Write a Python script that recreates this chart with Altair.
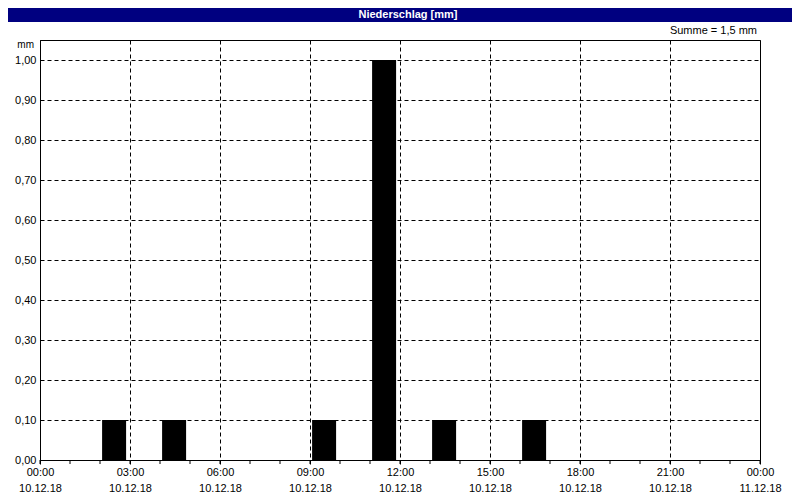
import altair as alt
import pandas as pd

# Data (hourly precipitation, bar start hour on 10.12.18)
start_hours = [2, 4, 9, 11, 13, 16]
values_mm = [0.10, 0.10, 0.10, 1.00, 0.10, 0.10]
x_tick_hours = [0, 3, 6, 9, 12, 15, 18, 21, 24]
minor_tick_hours = list(range(0, 25))
y_tick_values = [0.0, 0.1, 0.2, 0.3, 0.4, 0.5, 0.6, 0.7, 0.8, 0.9, 1.0]
title_text = "Niederschlag [mm]"
sum_text = "Summe = 1,5 mm"
unit_text = "mm"

df = pd.DataFrame({"start": start_hours, "value": values_mm})
minor_df = pd.DataFrame({"h": minor_tick_hours})

FONT = "Liberation Sans"
W, H = 720, 420

x_scale = alt.Scale(domain=[0, 24], nice=False, zero=False)
y_scale = alt.Scale(domain=[0, 1.05], nice=False)

label_expr = (
    "datum.value == 24 ? ['00:00', '11.12.18'] : "
    "[(datum.value < 10 ? '0' : '') + datum.value + ':00', '10.12.18']"
)

bars = (
    alt.Chart(df)
    .transform_calculate(x0="datum.start + 0.07", x1="datum.start + 0.87")
    .mark_rect(color="#000000")
    .encode(
        x=alt.X(
            "x0:Q",
            scale=x_scale,
            axis=alt.Axis(
                values=x_tick_hours,
                title=None,
                grid=True,
                gridColor="#000000",
                gridDash=[4, 3],
                gridOpacity=1,
                gridWidth=1,
                domainColor="#000000",
                tickColor="#000000",
                tickSize=4,
                labelExpr=label_expr,
                labelFont=FONT,
                labelFontSize=11,
                labelColor="#000000",
                labelLineHeight=16,
                labelPadding=2,
                labelFlush=False,
                labelOverlap=False,
            ),
        ),
        x2="x1:Q",
        y=alt.Y(
            "value:Q",
            scale=y_scale,
            axis=alt.Axis(
                values=y_tick_values,
                title=None,
                grid=True,
                gridColor="#000000",
                gridDash=[4, 3],
                gridOpacity=1,
                gridWidth=1,
                domainColor="#000000",
                ticks=False,
                labelExpr="replace(format(datum.value, '.2f'), '.', ',')",
                labelFont=FONT,
                labelFontSize=11,
                labelColor="#000000",
                labelPadding=4,
                labelFlush=False,
                labelOverlap=False,
            ),
        ),
        y2=alt.datum(0),
    )
)

minor_ticks = (
    alt.Chart(minor_df)
    .mark_rule(color="#000000", strokeWidth=1)
    .encode(
        x=alt.X("h:Q", scale=x_scale),
        y=alt.value(H),
        y2=alt.value(H + 4),
    )
)

title_bar = (
    alt.Chart(pd.DataFrame({"t": [title_text]}))
    .mark_rect(color="#000080")
    .encode(
        x=alt.value(-32),
        x2=alt.value(W + 32),
        y=alt.value(-32),
        y2=alt.value(-18),
    )
)

title_label = (
    alt.Chart(pd.DataFrame({"t": [title_text]}))
    .mark_text(
        font=FONT, fontSize=11, fontWeight="bold", color="#ffffff",
        align="center", baseline="middle",
    )
    .encode(x=alt.value(W / 2 + 8), y=alt.value(-25), text="t:N")
)

sum_label = (
    alt.Chart(pd.DataFrame({"t": [sum_text]}))
    .mark_text(font=FONT, fontSize=11, color="#000000", align="right", baseline="middle")
    .encode(x=alt.value(W - 3), y=alt.value(-9), text="t:N")
)

unit_label = (
    alt.Chart(pd.DataFrame({"t": [unit_text]}))
    .mark_text(font=FONT, fontSize=10, color="#000000", align="right", baseline="middle")
    .encode(x=alt.value(-6), y=alt.value(5), text="t:N")
)

chart = (
    alt.layer(bars, minor_ticks, title_bar, title_label, sum_label, unit_label)
    .properties(
        width=W,
        height=H,
        autosize=alt.AutoSizeParams(type="none"),
        padding={"left": 32, "top": 32, "right": 32, "bottom": 32},
        background="#ffffff",
    )
    .configure_view(stroke="#000000", strokeWidth=1)
)

chart.save("out.html", embed_options={"renderer": "svg", "actions": False})
